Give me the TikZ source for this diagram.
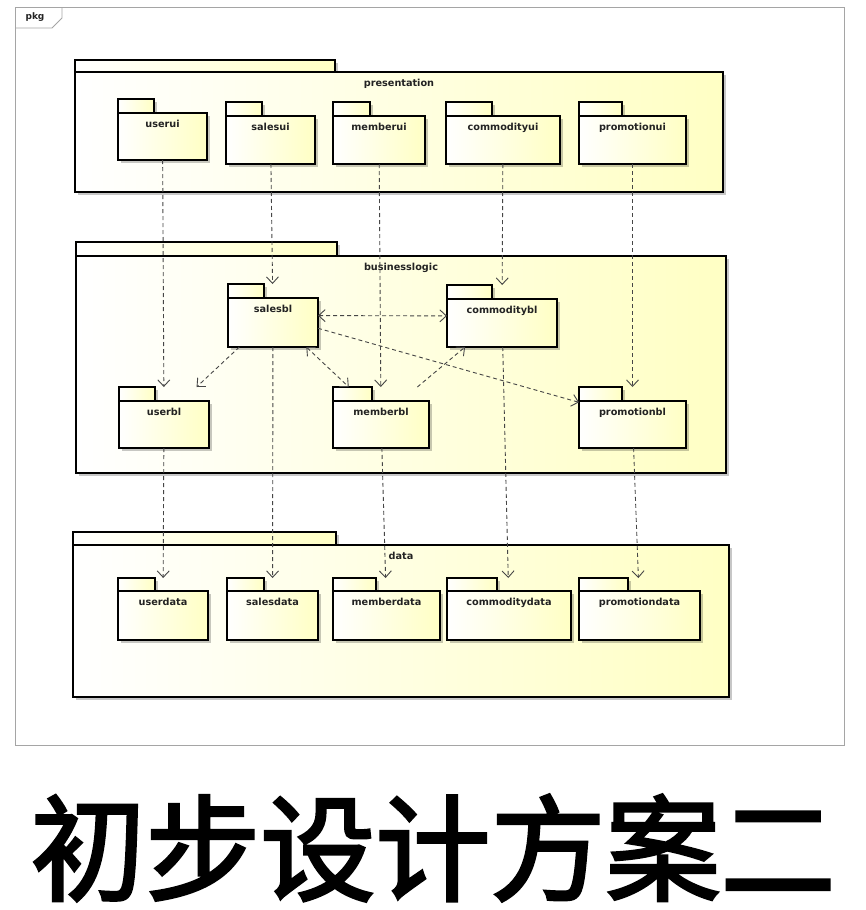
\documentclass[tikz,border=0pt]{standalone}
\usepackage{fontspec}
\setmainfont{DejaVu Sans}
\newfontfamily\cjkfont{Noto Sans CJK SC}[FakeBold=2.5]
\usetikzlibrary{arrows.meta,shadows,fit}
\definecolor{pkgyel}{RGB}{255,255,196}
\definecolor{arrowgray}{RGB}{70,70,70}
\definecolor{framegray}{RGB}{165,165,165}
\definecolor{labelgray}{RGB}{35,35,35}
\tikzset{
  pkgshape/.style={draw=black, line width=1.3pt, left color=white, right color=pkgyel,
    drop shadow={shadow xshift=2.5pt, shadow yshift=-2.5pt, opacity=0.22, fill=black}},
  pkgframe/.style={inner sep=0pt, outer sep=0pt},
  pkglabel/.style={font=\bfseries\fontsize{9.7}{11}\selectfont, text=labelgray, inner sep=0pt},
  vtip/.tip={Straight Barb[length=6.5pt,width=12pt,line width=0.9pt]},
  dep/.style={draw=arrowgray, line width=0.9pt, dash pattern=on 4pt off 3pt, -vtip},
  bidep/.style={draw=arrowgray, line width=0.9pt, dash pattern=on 4pt off 3pt, vtip-vtip},
}
\newcommand\umlpkg[8]{%
  \draw[pkgshape] (#2,#3) rectangle (#4,#5);
  \draw[pkgshape] (#2,#5) rectangle (#6,#7);
  \node[pkgframe, fit={(#2,#3) (#6,#7)}] (#1) {};
  \node[pkglabel, anchor=mid] (#1-lbl) at ({(#2+#6)/2},{#5+12}) {#8};
}
\begin{document}
\begin{tikzpicture}[x=1pt,y=-1pt]
\useasboundingbox (0,0) rectangle (865,910);
\fill[white] (0,0) rectangle (865,910);
% outer frame
\node[fit={(15,7) (844,745)}, draw=framegray, line width=0.8pt, inner sep=0pt, outer sep=0pt] (frame) {};
\draw[framegray, line width=0.8pt] (15,28) -- (52,28) -- (62,18) -- (62,7);
\node[font=\bfseries\fontsize{9}{10}\selectfont, text=labelgray, inner sep=0pt] (pkglbl) at (35,17) {pkg};
% containers
\umlpkg{presentation}{75}{60}{335}{72}{723}{192}{presentation}
\umlpkg{businesslogic}{76}{242}{337}{256}{726}{473}{businesslogic}
\umlpkg{data}{73}{532}{336}{545}{729}{697}{data}
% presentation
\umlpkg{userui}{118}{99}{154}{113}{207}{160}{userui}
\umlpkg{salesui}{226}{102}{262}{116}{315}{164}{salesui}
\umlpkg{memberui}{333}{102}{370}{116}{425}{164}{memberui}
\umlpkg{commodityui}{446}{102}{492}{116}{560}{164}{commodityui}
\umlpkg{promotionui}{579}{102}{622}{116}{686}{164}{promotionui}
% business logic
\umlpkg{salesbl}{228}{284}{264}{298}{318}{347}{salesbl}
\umlpkg{commoditybl}{447}{285}{492}{299}{557}{347}{commoditybl}
\umlpkg{userbl}{119}{387}{155}{401}{209}{448}{userbl}
\umlpkg{memberbl}{333}{387}{372}{401}{429}{448}{memberbl}
\umlpkg{promotionbl}{579}{387}{622}{401}{686}{448}{promotionbl}
% data
\umlpkg{userdata}{118}{578}{155}{591}{208}{640}{userdata}
\umlpkg{salesdata}{227}{578}{264}{591}{318}{640}{salesdata}
\umlpkg{memberdata}{333}{578}{376}{591}{440}{640}{memberdata}
\umlpkg{commoditydata}{447}{578}{497}{591}{571}{640}{commoditydata}
\umlpkg{promotiondata}{579}{578}{628}{591}{700}{640}{promotiondata}
% dependencies ui -> bl
\draw[dep] (userui) -- (userbl);
\draw[dep] (salesui) -- (salesbl);
\draw[dep] (memberui) -- (memberbl);
\draw[dep] (commodityui) -- (commoditybl);
\draw[dep] (promotionui) -- (promotionbl);
% within bl
\draw[bidep] (salesbl) -- (commoditybl);
\draw[dep] (salesbl) -- (userbl);
\draw[bidep] (salesbl) -- (memberbl);
\draw[dep] (salesbl) -- (promotionbl);
\draw[dep] (memberbl) -- (commoditybl);
% bl -> data
\draw[dep] (userbl) -- (userdata);
\draw[dep] (salesbl) -- (salesdata);
\draw[dep] (memberbl) -- (memberdata);
\draw[dep] (commoditybl) -- (commoditydata);
\draw[dep] (promotionbl) -- (promotiondata);
% title
\node[font=\cjkfont\fontsize{115}{120}\selectfont, inner sep=0pt] (title) at (433,848) {初步设计方案二};
\end{tikzpicture}
\end{document}
